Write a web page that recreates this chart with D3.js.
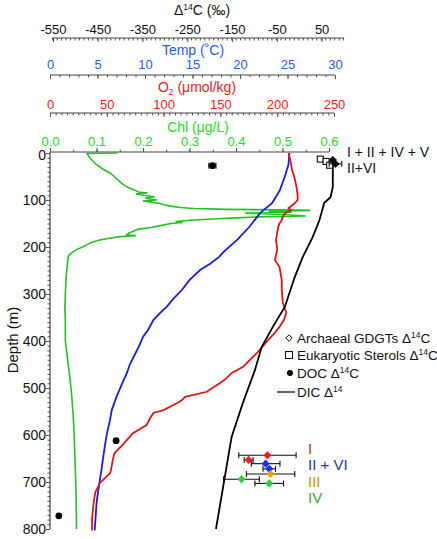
<!DOCTYPE html>
<html><head><meta charset="utf-8">
<script src="https://cdn.jsdelivr.net/npm/d3@7"></script>
<style>body{margin:0;background:#fff}svg{font-family:"Liberation Sans",Arial,sans-serif}</style>
</head><body><svg id="c" width="437" height="539"></svg>
<script>
// ---- data ----
const chlProfile = [[0,0.145],[1,0.08],[10,0.085],[15,0.09],[25,0.1],[35,0.115],[43,0.13],[50,0.138],[57,0.146],[65,0.155],[72,0.165],[78,0.18],[83,0.19],[85,0.21],[87,0.185],[90,0.2],[93,0.225],[96,0.205],[98,0.215],[100,0.23],[102,0.2],[104,0.215],[107,0.235],[110,0.245],[113,0.26],[116,0.28],[118,0.31],[120,0.38],[121,0.5],[122,0.56],[124,0.47],[126,0.52],[128,0.42],[131,0.5],[134,0.55],[136,0.45],[138,0.4],[140,0.36],[143,0.3],[146,0.27],[148,0.285],[150,0.26],[155,0.235],[158,0.22],[162,0.19],[166,0.18],[170,0.17],[174,0.165],[176,0.185],[178,0.15],[182,0.125],[185,0.107],[190,0.09],[195,0.08],[200,0.07],[205,0.058],[210,0.05],[216,0.042],[221,0.039],[240,0.037],[260,0.035],[300,0.033],[330,0.032],[360,0.033],[400,0.033],[440,0.038],[480,0.043],[520,0.047],[560,0.05],[600,0.052],[660,0.054],[720,0.056],[800,0.057]];
const tempProfile = [[0,25.2],[25,25.1],[51,24.7],[79,24.2],[106,23.4],[128,22.1],[157,21.0],[185,19.7],[210,18.3],[221,17.8],[235,16.9],[249,15.8],[270,14.7],[291,13.9],[310,13.0],[327,12.3],[340,11.6],[355,10.9],[377,10.3],[391,9.8],[410,9.4],[434,8.8],[450,8.4],[468,8.1],[490,7.6],[519,7.0],[547,6.5],[570,6.3],[596,6.0],[620,5.8],[647,5.6],[670,5.45],[689,5.3],[715,5.1],[745,4.9],[775,4.8],[803,4.7]];
const o2Profile = [[0,210],[10,211],[20,212],[36,213],[50,215],[72,217],[90,218],[100,218],[108,215],[117,210],[122,212],[128,207],[135,205],[143,204],[150,202],[157,201],[170,200],[185,199],[206,200],[228,198],[242,202],[270,204],[291,204],[319,205],[340,208],[355,206],[370,202],[385,197],[398,192],[412,187],[426,182],[440,176],[455,170],[468,160],[480,155],[489,150],[508,138],[519,119],[526,116],[532,112],[547,100],[553,91],[565,88],[579,85],[596,73],[610,68],[621,64],[638,57],[645,56],[657,55],[670,54],[681,53],[690,49],[702,44],[712,42],[721,40],[735,39],[753,38],[780,37],[803,37]];
const dicProfile = [[12,75],[72,75],[94,70],[106,56],[143,45],[179,30],[221,8],[264,-10],[327,-32],[370,-59],[413,-84],[462,-99],[532,-126],[604,-151],[800,-186]];
// DOC: [depth, Δ14C, error]
const docPoints = [[27,-194,8],[612,-409,0],[772,-537,0]];
// Sterols near surface: [depth, Δ14C, error]
const sterolPoints = [[13,47,6],[18,60,6],[26,68,6]];
// GDGTs near surface: [depth, Δ14C, error]
const gdgtSurface = [[15,75,0],[23,81,14]];
// Deep GDGTs: [depth, Δ14C, error, group]
const gdgtDeep = [[643,-71,64,"I"],[653,-113,10,"I"],[661,-75,32,"II + VI"],[672,-67,14,"II + VI"],[683,-64,54,"III"],[694,-129,40,"IV"],[703,-67,32,"IV"]];
const groupLabels = ["I","II + VI","III","IV"];
const groupLabelDepth = [630,664,700,734];
const d14Ticks = [-550,-450,-350,-250,-150,-50,50];
const tempTicks = [0,5,10,15,20,25,30];
const o2Ticks = [0,50,100,150,200,250];
const chlTicks = [0,0.1,0.2,0.3,0.4,0.5,0.6];
const depthTicks = [0,100,200,300,400,500,600,700,800];

// ---- styles ----
const groupMarkColor = {"I":"#ee1c1c","II + VI":"#1f2fee","III":"#f5a000","IV":"#2bd42b"};
const groupTextColor = {"I":"#b5332e","II + VI":"#2b339b","III":"#d08c10","IV":"#3aa53a"};
const cBlue="#2b5be0", cRed="#ee1c24", cGreen="#22dd22";

const svg = d3.select("#c");
const y = d3.scaleLinear().domain([0,800]).range([153,529]);
const xD = d3.scaleLinear().domain([-550,100]).range([53,344]);
const xT = d3.scaleLinear().domain([0,30]).range([50,335]);
const xO = d3.scaleLinear().domain([0,250]).range([50,334]);
const xC = d3.scaleLinear().domain([0,0.6]).range([50,329]);

function topAxis(scale, lineY, ticks, minorStep, fmt, color, pad, up, dom){
  const g = svg.append("g").attr("transform",`translate(0,${lineY})`);
  const minor = d3.range(dom[0], dom[1]+1e-9, minorStep);
  const gm = g.append("g").call(d3.axisTop(scale).tickValues(minor).tickFormat("").tickSize(up?2.5:-2.5).tickSizeOuter(0));
  gm.select(".domain").remove();
  const ga = g.append("g").call(d3.axisTop(scale).tickValues(ticks).tickFormat(fmt).tickSize(up?4:-4).tickSizeOuter(0).tickPadding(pad));
  ga.select(".domain").remove();
  g.append("line").attr("x1",scale(dom[0])).attr("x2",scale(dom[1])).attr("stroke","#444").attr("stroke-width",1.2);
  g.selectAll(".tick line").attr("stroke","#555");
  ga.selectAll("text").attr("fill",color).attr("font-size",13).attr("font-family","Liberation Sans, Arial");
}
topAxis(xD,38,d14Ticks,10,d=>d,"#111",4,false,[-552,100]);
topAxis(xT,75,tempTicks,1,d=>d,cBlue,6,false,[0,30]);
topAxis(xO,113,o2Ticks,5,d=>d,cRed,4,false,[0,250]);
topAxis(xC,152,chlTicks,0.05,d3.format(".1f"),cGreen,2,true,[0,0.6]);

// titles
function title(x,yb,color,parts){
  const t = svg.append("text").attr("x",x).attr("y",yb).attr("text-anchor","middle").attr("fill",color).attr("font-size",14);
  parts.forEach(p=>{const s=t.append("tspan").text(p[0]); if(p[1]==="sup"){s.attr("font-size",8.5).attr("dy",-5);} else if(p[1]==="sub"){s.attr("font-size",8.5).attr("dy",3);} else if(p[1]==="back"){s.attr("dy",p[2]);}});
  return t;
}
title(202,15,"#111",[["Δ"],["14","sup"],["C (‰)","back",5]]);
title(193,55,cBlue,[["Temp (˚C)"]]);
title(197,92,cRed,[["O"],["2","sub"],[" (μmol/kg)","back",-3]]);
title(198,132,cGreen,[["Chl (μg/L)"]]);

// depth axis
const gy = svg.append("g").attr("transform","translate(50,0)");
gy.append("g").call(d3.axisLeft(y).tickValues(d3.range(0,801,10)).tickFormat("").tickSize(2.5).tickSizeOuter(0)).select(".domain").remove();
const gya = gy.append("g").call(d3.axisLeft(y).tickValues(depthTicks).tickSize(4).tickSizeOuter(0).tickPadding(0));
gya.select(".domain").remove();
gy.selectAll(".tick line").attr("stroke","#555");
gya.selectAll("text").attr("font-size",14).attr("fill","#111").attr("font-family","Liberation Sans, Arial");
gya.selectAll(".tick").filter(d=>d===0).select("text").attr("dy","0.45em");
gy.append("line").attr("y1",y(0)-1).attr("y2",y(800)).attr("stroke","#444").attr("stroke-width",1.2);
svg.append("text").attr("transform","translate(18,340) rotate(-90)").attr("text-anchor","middle").attr("font-size",15).attr("fill","#111").text("Depth (m)");

// profiles
const line = (xs)=>d3.line().x(d=>xs(d[1])).y(d=>y(d[0]));
svg.append("path").datum(chlProfile).attr("d",line(xC)).attr("fill","none").attr("stroke","#22c322").attr("stroke-width",1.6);
svg.append("path").datum(tempProfile).attr("d",line(xT)).attr("fill","none").attr("stroke","#1a1aee").attr("stroke-width",1.8);
svg.append("path").datum(o2Profile).attr("d",line(xO)).attr("fill","none").attr("stroke","#e01414").attr("stroke-width",1.8);
svg.append("path").datum(dicProfile).attr("d",line(xD)).attr("fill","none").attr("stroke","#000").attr("stroke-width",1.8);

function errbar(d,v,e){
  if(!e) return;
  const yy=y(d), g=svg.append("g").attr("stroke","#111").attr("stroke-width",1.1);
  g.append("line").attr("x1",xD(v-e)).attr("x2",xD(v+e)).attr("y1",yy).attr("y2",yy);
  g.append("line").attr("x1",xD(v-e)).attr("x2",xD(v-e)).attr("y1",yy-3).attr("y2",yy+3);
  g.append("line").attr("x1",xD(v+e)).attr("x2",xD(v+e)).attr("y1",yy-3).attr("y2",yy+3);
}
sterolPoints.forEach(p=>{errbar(p[0],p[1],p[2]); svg.append("rect").attr("x",xD(p[1])-3).attr("y",y(p[0])-3).attr("width",6).attr("height",6).attr("fill","#fff").attr("stroke","#111").attr("stroke-width",1.1);});
gdgtSurface.forEach(p=>{errbar(p[0],p[1],p[2]); svg.append("path").attr("d",d3.symbol(d3.symbolDiamond2,34)()).attr("transform",`translate(${xD(p[1])},${y(p[0])})`).attr("fill","#111").attr("stroke","#111");});
docPoints.forEach(p=>{errbar(p[0],p[1],p[2]); svg.append("circle").attr("cx",xD(p[1])).attr("cy",y(p[0])).attr("r",3.4).attr("fill","#000");});
gdgtDeep.forEach(p=>{errbar(p[0],p[1],p[2]); svg.append("path").attr("d",d3.symbol(d3.symbolDiamond2,42)()).attr("transform",`translate(${xD(p[1])},${y(p[0])})`).attr("fill",groupMarkColor[p[3]]);});

// annotations
svg.append("text").attr("x",347).attr("y",157).attr("font-size",14).attr("fill","#111").text("I + II + IV + V");
svg.append("text").attr("x",347).attr("y",173).attr("font-size",14).attr("fill","#111").text("II+VI");
groupLabels.forEach((g,i)=>svg.append("text").attr("x",308).attr("y",y(groupLabelDepth[i])+5).attr("font-size",15).attr("fill",groupTextColor[g]).text(g));

// legend
const lg = svg.append("g").attr("font-size",13.5).attr("fill","#111");
function legText(yc, parts){
  const t = lg.append("text").attr("x",297).attr("y",yc+5);
  parts.forEach(p=>{const s=t.append("tspan").text(p[0]); if(p[1]==="sup") s.attr("font-size",8.5).attr("dy",-5.5); if(p[1]==="back") s.attr("dy",5.5);});
}
lg.append("path").attr("d",d3.symbol(d3.symbolDiamond2,26)()).attr("transform","translate(289,338)").attr("fill","#fff").attr("stroke","#111").attr("stroke-width",1);
legText(338,[["Archaeal GDGTs Δ"],["14","sup"],["C","back"]]);
lg.append("rect").attr("x",285.5).attr("y",351.5).attr("width",7).attr("height",7).attr("fill","#fff").attr("stroke","#111").attr("stroke-width",1);
legText(355,[["Eukaryotic Sterols Δ"],["14","sup"],["C","back"]]);
lg.append("circle").attr("cx",290).attr("cy",373).attr("r",3).attr("fill","#000");
legText(373,[["DOC Δ"],["14","sup"],["C","back"]]);
lg.append("line").attr("x1",277).attr("x2",295).attr("y1",392).attr("y2",392).attr("stroke","#111").attr("stroke-width",1.3);
legText(392,[["DIC Δ"],["14","sup"]]);
</script></body></html>
